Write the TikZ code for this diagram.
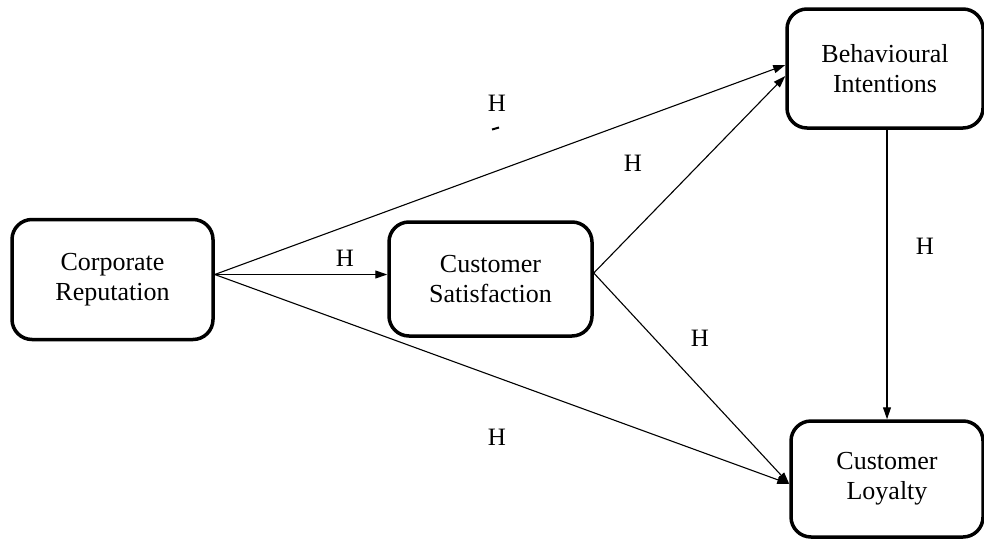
\documentclass[tikz,border=0pt]{standalone}
\usepackage{fontspec}
\setmainfont{Liberation Serif}
\newfontfamily\timesfont{Liberation Serif}
\usetikzlibrary{arrows.meta,calc}
\begin{document}
\begin{tikzpicture}[x=1pt,y=-1pt,
  box/.style={draw,line width=3.5pt,rounded corners=20pt,align=center,
    font=\timesfont\fontsize{26}{30}\selectfont,inner sep=0pt},
  link/.style={line width=1.1pt,-{Triangle[length=12pt,width=8pt]}},
  hlabel/.style={font=\timesfont\fontsize{25}{29}\selectfont,inner sep=0pt}]
\useasboundingbox (0,0) rectangle (984,538);
\node[box,minimum width=201pt,minimum height=120pt] (CR) at (112.5,279.5) {\raisebox{-3pt}{Corporate}\\\raisebox{-3pt}{Reputation}};
\node[box,minimum width=203pt,minimum height=114pt] (CS) at (490.5,279) {\raisebox{-3pt}{Customer}\\\raisebox{-3pt}{Satisfaction}};
\node[box,minimum width=196pt,minimum height=119pt] (BI) at (885,68.5) {Behavioural\\Intentions};
\node[box,minimum width=192pt,minimum height=116pt] (CL) at (887,479) {Customer\\Loyalty};
\coordinate (o1) at ($(CR.east)+(0,-5)$);
\coordinate (o2) at ($(CS.east)+(0,-6)$);
\coordinate (b1) at ($(BI.west)+(0,-3.5)$);
\coordinate (b2) at ($(BI.west)+(0,7.5)$);
\coordinate (c1) at ($(CL.west)+(0,5)$);
\coordinate (s1) at (CS.west |- o1);
\draw[link] (o1) -- (b1);
\draw[link] (o1) -- (s1);
\draw[link] (o1) -- (c1);
\draw[link] (o2) -- (b2);
\draw[link] (o2) -- (c1);
\draw[link] (CL.north |- BI.south) -- (CL.north);
\node[hlabel] (h1) at (497,103) {H};
\coordinate (m1) at (492,129.5);
\coordinate (m2) at (499,127.5);
\draw[line width=2pt] (m1) -- (m2);
\node[hlabel] (h2) at (633,163) {H};
\node[hlabel] (h3) at (345,258) {H};
\node[hlabel] (h4) at (925,246) {H};
\node[hlabel] (h5) at (700,338) {H};
\node[hlabel] (h6) at (497,437) {H};
\end{tikzpicture}
\end{document}
